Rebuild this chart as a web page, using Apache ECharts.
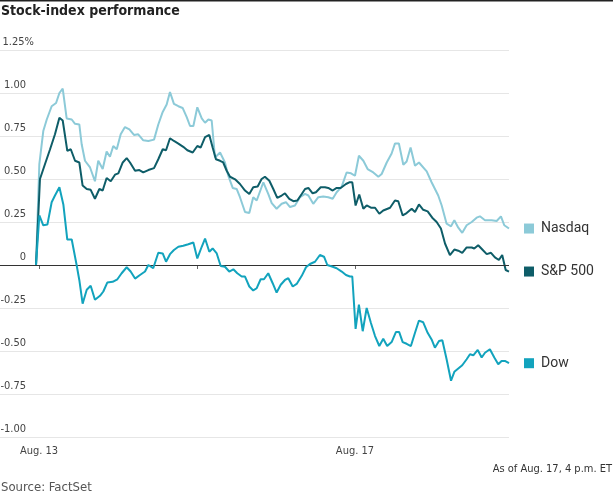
<!DOCTYPE html>
<html>
<head>
<meta charset="utf-8">
<script src="https://cdn.jsdelivr.net/npm/echarts@6/dist/echarts.min.js"></script>
<style>
html,body{margin:0;padding:0;background:#fff;}
#chart{width:613px;height:495px;}
</style>
</head>
<body>
<div id="chart"></div>
<script>
// x positions are in trading days from the Aug. 13 open (1 = Aug. 14 open, 2 = Aug. 17 open)
var nasdaqT = [-0.019,0.002,0.027,0.049,0.080,0.108,0.129,0.150,0.175,0.207,0.228,0.255,0.270,0.291,0.323,0.354,0.375,0.403,0.428,0.449,0.470,0.492,0.517,0.544,0.572,0.601,0.628,0.660,0.692,0.728,0.755,0.783,0.808,0.829,0.854,0.882,0.909,0.935,0.956,0.977,1.002,1.030,1.051,1.072,1.093,1.114,1.146,1.177,1.198,1.226,1.251,1.272,1.304,1.331,1.356,1.378,1.420,1.451,1.473,1.504,1.536,1.563,1.589,1.620,1.652,1.684,1.705,1.736,1.768,1.799,1.831,1.859,1.884,1.916,1.947,1.975,2.000,2.025,2.053,2.080,2.116,2.148,2.169,2.201,2.232,2.253,2.278,2.306,2.327,2.352,2.380,2.405,2.454,2.485,2.527,2.549,2.580,2.608,2.629,2.654,2.679,2.707,2.739,2.770,2.791,2.823,2.865,2.897,2.924,2.945,2.975];
var nasdaqV = [0,0.587,0.779,0.846,0.923,0.942,1.0,1.025,0.852,0.846,0.821,0.817,0.702,0.606,0.567,0.487,0.606,0.558,0.660,0.629,0.692,0.673,0.760,0.802,0.788,0.756,0.760,0.725,0.721,0.729,0.817,0.890,0.933,1.006,0.937,0.923,0.913,0.860,0.808,0.808,0.917,0.852,0.827,0.846,0.840,0.625,0.654,0.596,0.519,0.448,0.442,0.394,0.308,0.302,0.394,0.375,0.481,0.413,0.360,0.327,0.356,0.365,0.337,0.346,0.394,0.413,0.404,0.356,0.394,0.398,0.394,0.385,0.423,0.456,0.538,0.533,0.519,0.635,0.606,0.558,0.538,0.513,0.529,0.596,0.648,0.706,0.706,0.583,0.602,0.683,0.577,0.596,0.544,0.481,0.404,0.346,0.240,0.225,0.260,0.217,0.187,0.231,0.250,0.275,0.283,0.260,0.260,0.256,0.283,0.231,0.212];

var spT = [-0.019,0.006,0.038,0.070,0.101,0.129,0.150,0.179,0.201,0.228,0.255,0.276,0.302,0.327,0.354,0.382,0.403,0.428,0.454,0.481,0.502,0.530,0.555,0.576,0.608,0.635,0.660,0.692,0.728,0.755,0.783,0.804,0.829,0.854,0.882,0.913,0.939,0.973,1.002,1.023,1.051,1.078,1.099,1.120,1.146,1.166,1.188,1.209,1.241,1.272,1.304,1.331,1.356,1.384,1.409,1.430,1.458,1.483,1.508,1.536,1.557,1.584,1.610,1.635,1.663,1.684,1.705,1.732,1.753,1.783,1.810,1.831,1.859,1.884,1.909,1.943,1.964,1.983,2.004,2.027,2.053,2.074,2.101,2.127,2.154,2.179,2.222,2.253,2.274,2.302,2.327,2.359,2.380,2.405,2.432,2.460,2.489,2.517,2.544,2.570,2.601,2.629,2.654,2.679,2.707,2.739,2.755,2.780,2.806,2.834,2.861,2.886,2.911,2.932,2.954,2.975];
var spV = [0,0.500,0.587,0.673,0.760,0.856,0.840,0.663,0.673,0.606,0.596,0.462,0.442,0.437,0.385,0.442,0.433,0.506,0.487,0.525,0.533,0.596,0.621,0.596,0.548,0.552,0.538,0.552,0.563,0.615,0.673,0.667,0.737,0.721,0.706,0.687,0.667,0.654,0.692,0.683,0.744,0.756,0.683,0.615,0.606,0.596,0.548,0.513,0.498,0.471,0.433,0.413,0.452,0.456,0.500,0.513,0.490,0.442,0.390,0.404,0.417,0.385,0.371,0.375,0.413,0.442,0.448,0.417,0.423,0.452,0.452,0.448,0.433,0.448,0.448,0.471,0.481,0.481,0.346,0.410,0.327,0.346,0.333,0.333,0.298,0.317,0.333,0.375,0.371,0.288,0.302,0.327,0.308,0.352,0.321,0.312,0.275,0.250,0.212,0.125,0.058,0.090,0.083,0.071,0.102,0.102,0.096,0.115,0.090,0.063,0.071,0.044,0.029,0.058,-0.029,-0.038];

var dowT = [-0.019,0.002,0.027,0.053,0.080,0.101,0.129,0.154,0.179,0.207,0.238,0.255,0.276,0.302,0.327,0.354,0.386,0.407,0.432,0.466,0.496,0.523,0.555,0.580,0.608,0.639,0.671,0.692,0.723,0.755,0.783,0.804,0.829,0.854,0.882,0.913,0.945,0.977,1.002,1.030,1.051,1.078,1.099,1.125,1.150,1.177,1.204,1.230,1.255,1.283,1.304,1.331,1.356,1.378,1.403,1.424,1.451,1.479,1.504,1.530,1.557,1.578,1.606,1.631,1.663,1.690,1.715,1.747,1.778,1.804,1.825,1.859,1.884,1.916,1.943,1.968,1.983,2.004,2.025,2.049,2.074,2.101,2.127,2.154,2.179,2.204,2.232,2.259,2.280,2.302,2.327,2.354,2.380,2.405,2.432,2.460,2.485,2.506,2.532,2.553,2.580,2.608,2.629,2.654,2.679,2.707,2.728,2.749,2.777,2.802,2.823,2.854,2.882,2.907,2.928,2.949,2.975];
var dowV = [0,0.288,0.231,0.235,0.365,0.404,0.452,0.352,0.148,0.148,0,-0.087,-0.225,-0.144,-0.121,-0.202,-0.179,-0.154,-0.102,-0.098,-0.083,-0.048,-0.013,-0.038,-0.079,-0.058,-0.038,0,-0.019,0.071,0.067,0.019,0.063,0.087,0.106,0.112,0.121,0.131,0.038,0.106,0.154,0.077,0.096,0.067,-0.006,-0.010,-0.038,-0.025,-0.048,-0.067,-0.067,-0.125,-0.148,-0.135,-0.083,-0.083,-0.048,-0.106,-0.160,-0.115,-0.087,-0.077,-0.125,-0.110,-0.063,-0.013,0.006,0.019,0.058,0.048,0,-0.010,-0.019,-0.038,-0.058,-0.067,-0.067,-0.371,-0.231,-0.385,-0.250,-0.337,-0.413,-0.471,-0.429,-0.471,-0.448,-0.390,-0.390,-0.448,-0.458,-0.471,-0.394,-0.323,-0.333,-0.394,-0.433,-0.481,-0.442,-0.437,-0.548,-0.673,-0.621,-0.602,-0.583,-0.548,-0.519,-0.525,-0.494,-0.538,-0.510,-0.490,-0.538,-0.577,-0.558,-0.558,-0.571];

var seriesNames = ['Nasdaq', 'S&P 500', 'Dow'];
var seriesColors = ['#8ccad8', '#0e5d68', '#12a3bd'];
var dayTicks = [0, 1, 2];
var dayLabels = {0: 'Aug. 13', 2: 'Aug. 17'};
var yTicks = {min: -1, max: 1.25, step: 0.25};

var FONT = "'Liberation Sans Narrow', 'DejaVu Sans Condensed', Roboto, sans-serif";

function zip(t, v) { return t.map(function (x, i) { return [x, v[i]]; }); }

function makeSeries(idx, t, v) {
  return {
    name: seriesNames[idx],
    type: 'line',
    data: zip(t, v),
    showSymbol: false,
    symbol: 'none',
    smooth: false,
    z: 3 + idx,
    lineStyle: { color: seriesColors[idx], width: 2 },
    itemStyle: { color: seriesColors[idx] },
    endLabel: {
      show: true,
      distance: 15,
      formatter: function () { return '{sq|}{t|' + seriesNames[idx] + '}'; },
      rich: {
        sq: { width: 10, height: 10, backgroundColor: seriesColors[idx] },
        t: { fontFamily: 'Roboto, sans-serif', fontSize: 14, color: '#333', padding: [0, 0, 0, 7] }
      }
    },
    emphasis: { disabled: true }
  };
}

var chart = echarts.init(document.getElementById('chart'), null, { renderer: 'canvas' });
var series = [
  makeSeries(2, dowT, dowV),
  makeSeries(0, nasdaqT, nasdaqV),
  makeSeries(1, spT, spV)
];
series[0].markLine = {
  silent: true,
  symbol: 'none',
  label: { show: false },
  lineStyle: { color: '#333', width: 1, type: 'solid' },
  data: [{ yAxis: 0 }],
  animation: false
};

chart.setOption({
  animation: false,
  backgroundColor: '#fff',
  grid: { left: 0, right: 104, top: 50, bottom: 58, containLabel: false, outerBoundsMode: 'none' },
  xAxis: {
    type: 'value',
    min: -0.247,
    max: 2.975,
    axisLine: { show: false },
    splitLine: { show: false },
    axisTick: { show: true, customValues: dayTicks, length: 4, lineStyle: { color: '#666', width: 1 } },
    axisLabel: {
      customValues: [0, 2],
      margin: 9,
      fontFamily: FONT,
      fontSize: 11,
      color: '#444',
      formatter: function (v) { return dayLabels[Math.round(v)] || ''; }
    }
  },
  yAxis: {
    type: 'value',
    min: yTicks.min,
    max: yTicks.max,
    interval: yTicks.step,
    axisLine: { show: false },
    axisTick: { show: false },
    splitLine: { show: true, lineStyle: { color: '#e6e6e6', width: 1 } },
    axisLabel: {
      inside: true,
      margin: 34,
      align: 'right',
      verticalAlign: 'bottom',
      fontFamily: FONT,
      fontSize: 11,
      color: '#444',
      formatter: function (v) {
        if (Math.abs(v - 1.25) < 1e-9) return '{p|1.25%}';
        var s = Math.abs(v) < 1e-9 ? '0' : v.toFixed(2);
        return '{m|' + s + '}';
      },
      rich: {
        p: { fontFamily: FONT, fontSize: 11, color: '#444', padding: [0, 0, 2, 0] },
        m: { fontFamily: FONT, fontSize: 11, color: '#444', padding: [0, 8, 2, 0] }
      }
    }
  },
  graphic: [
    { type: 'rect', left: 0, top: 0, shape: { width: 613, height: 1.5 }, style: { fill: '#222' } },
    { type: 'text', left: 1, top: 4, style: { text: 'Stock-index performance', font: "bold 14px " + FONT, fill: '#222' } },
    { type: 'text', right: 1, top: 464, style: { text: 'As of Aug. 17, 4 p.m. ET', font: "11px " + FONT, fill: '#333' } },
    { type: 'text', left: 1, top: 481, style: { text: 'Source: FactSet', font: "13px " + FONT, fill: '#555' } }
  ],
  series: series
});
</script>
</body>
</html>
